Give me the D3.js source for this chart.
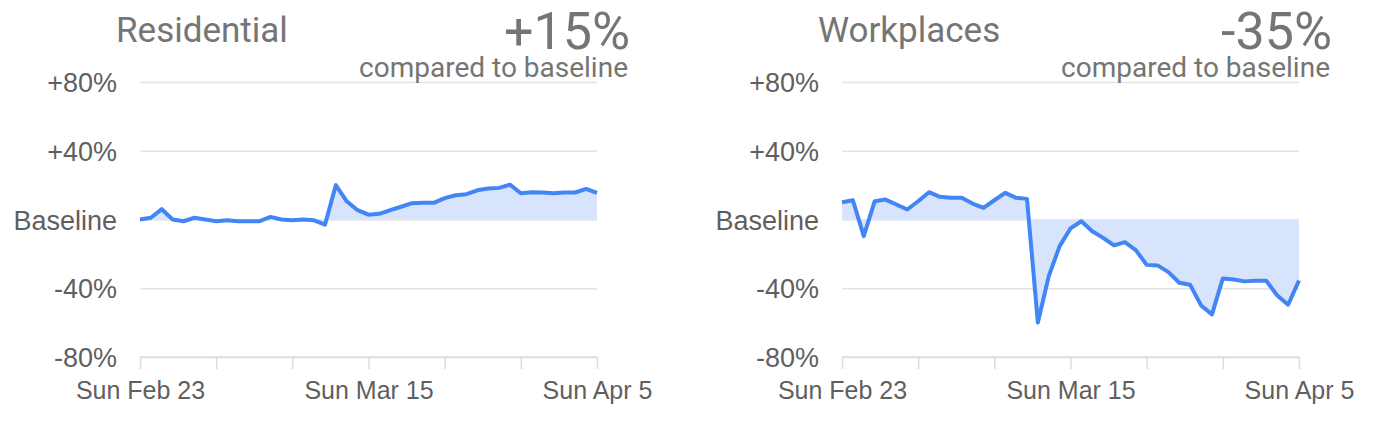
<!DOCTYPE html>
<html>
<head>
<meta charset="utf-8">
<title>Mobility: Residential and Workplaces</title>
<script src="https://cdn.jsdelivr.net/npm/d3@7"></script>
<style>
  body { margin: 0; background: #fff; }
  .title { font-family: Roboto, "Noto Sans", sans-serif; fill: #757575; }
  .tick text { font-family: "Liberation Sans", Arial, sans-serif; fill: #5f5f5f; }
</style>
</head>
<body>
<div id="chart"></div>

<script>
// Feb 23 .. Apr 5 2020, one value per day (% change vs baseline)
var startDay = new Date(2020, 1, 23), endDay = new Date(2020, 3, 5);
var days = d3.timeDay.range(startDay, d3.timeDay.offset(endDay, 1));

var residential = [0, 1, 6, 0, -1, 1, 0, -1, -0.5, -1, -1, -1, 1.5, 0, -0.5, 0, -0.5, -3,
    20, 10.6, 5.4, 2.8, 3.3, 5.4, 7.4, 9.5, 9.7, 9.7, 12.4, 14.1, 14.7, 17, 18, 18.4, 20.3,
    15.3, 15.9, 15.7, 15.3, 15.7, 15.7, 17.8, 15.5];

var workplaces = [10, 11.2, -9.7, 10.6, 11.6, 8.7, 5.8, 10.6, 15.9, 13.2, 12.6, 12.6, 9.3, 6.8,
    11.2, 15.5, 12.6, 12, -60, -33, -15.5, -5.2, -1, -6.8, -10.7, -15.1, -13.2, -17.8, -26.4,
    -26.7, -30.6, -36.8, -38, -50, -55.2, -34.3, -34.9, -36, -35.7, -35.7, -44.2, -49.6, -35.5];

var panelNames = ["Residential", "Workplaces"];
var headline = ["+15%", "-35%"];
var panelSeries = [residential, workplaces];

var yTicks = [-80, -40, 0, 40, 80];
var yTickLabels = ["-80%", "-40%", "Baseline", "+40%", "+80%"];
var xLabelDays = [new Date(2020, 1, 23), new Date(2020, 2, 15), new Date(2020, 3, 5)];

var width = 1400, height = 430;
var svg = d3.select("#chart").append("svg")
    .attr("width", width)
    .attr("height", height);

var panelLeft = [140, 842], plotW = 457;
var y = d3.scaleLinear().domain([-80, 80]).range([357, 82]);
var fmt = d3.timeFormat("%a %b %-d");

panelNames.forEach(function(name, p) {
    var g = svg.append("g").attr("transform", "translate(" + panelLeft[p] + ",0)");
    var x = d3.scaleTime().domain([startDay, endDay]).range([0, plotW]);
    var values = panelSeries[p];

    // grid lines + y labels
    var yAxis = d3.axisLeft(y).tickValues(yTicks).tickSize(-plotW).tickPadding(23)
        .tickFormat(function(d, i) { return yTickLabels[i]; });
    var ya = g.append("g").call(yAxis);
    ya.select(".domain").remove();
    ya.selectAll("line").attr("stroke", "#e3e3e3").attr("stroke-width", 1.5);
    ya.selectAll("text").attr("font-size", 27).attr("dy", "0.36em");

    // bottom axis, weekly ticks
    var xAxis = d3.axisBottom(x).ticks(d3.timeWeek.every(1)).tickSize(12).tickPadding(6)
        .tickFormat(function(d) {
            return xLabelDays.some(function(t) { return +t === +d; }) ? fmt(d) : "";
        });
    var xa = g.append("g").attr("transform", "translate(0," + y(-80) + ")").call(xAxis);
    xa.select(".domain").attr("stroke", "#dcdcdc").attr("stroke-width", 1.5)
        .attr("d", "M0,0H" + plotW);
    xa.selectAll("line").attr("stroke", "#dcdcdc").attr("stroke-width", 1.5);
    xa.selectAll("text").attr("font-size", 25).attr("dy", "0.95em");

    var area = d3.area()
        .x(function(d, i) { return x(days[i]); })
        .y0(y(0))
        .y1(function(d) { return y(d); });
    var line = d3.line()
        .x(function(d, i) { return x(days[i]); })
        .y(function(d) { return y(d); });

    g.append("path").datum(values).attr("d", area).attr("fill", "#d7e4fb");
    g.append("path").datum(values).attr("d", line)
        .attr("fill", "none").attr("stroke", "#4285f4")
        .attr("stroke-width", 4).attr("stroke-linejoin", "round");

    // header texts
    g.append("text").attr("class", "title")
        .attr("x", -24).attr("y", 42).attr("font-size", 35).text(name);
    g.append("text").attr("class", "title")
        .attr("x", plotW + 33).attr("y", 49).attr("text-anchor", "end")
        .attr("font-size", 52).text(headline[p]);
    g.append("text").attr("class", "title")
        .attr("x", plotW + 31).attr("y", 77).attr("text-anchor", "end")
        .attr("font-size", 28).attr("fill", "#808080").text("compared to baseline");
});
</script>
</body>
</html>
